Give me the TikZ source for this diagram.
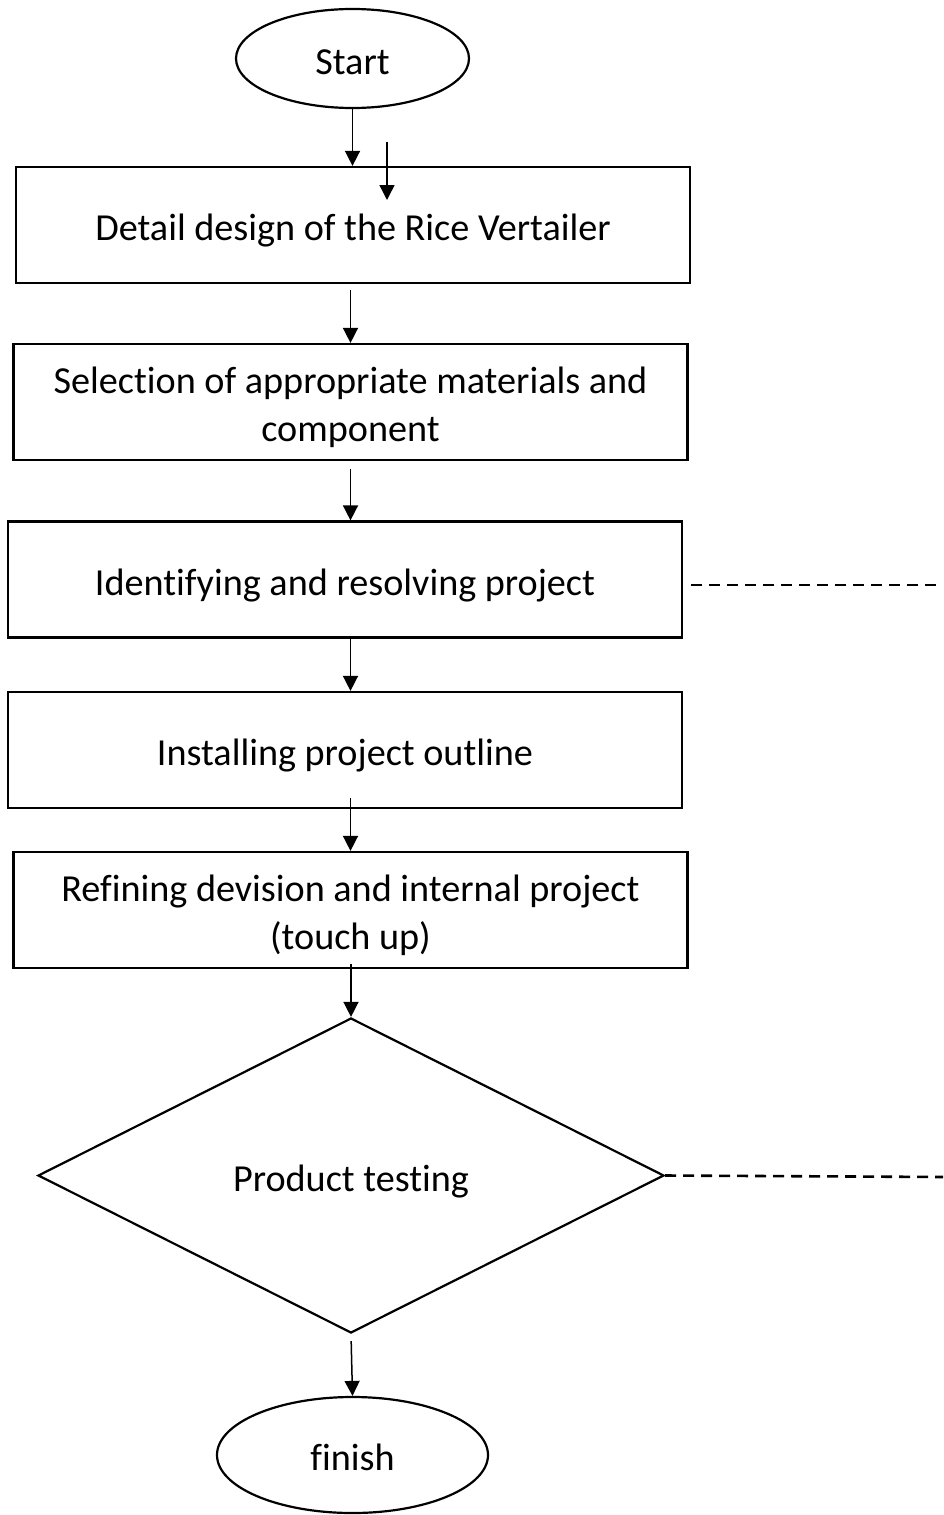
\documentclass[tikz,border=0pt]{standalone}
\usepackage{fontspec}
\setmainfont{Carlito}[Ligatures=NoCommon]
\usetikzlibrary{shapes.geometric,arrows.meta}
\newcommand{\bt}[1]{\raisebox{-6pt}[\height][\depth]{\begin{tabular}{@{}c@{}}#1\end{tabular}}}
\begin{document}
\begin{tikzpicture}[x=1pt,y=-1pt,
  every node/.style={font=\fontsize{38.2}{48}\selectfont},
  box/.style={draw, line width=2.2pt, rectangle, minimum width=674pt, minimum height=116pt, inner sep=0pt},
  term/.style={draw, line width=2.2pt, ellipse, inner sep=0pt},
  decision/.style={draw, line width=2.2pt, diamond, inner sep=0pt},
  arr/.style={line width=1.5pt, -{Triangle[length=15pt,width=15pt]}},
  dashline/.style={line width=2.6pt, dash pattern=on 11pt off 7pt}
]
\useasboundingbox (0,0) rectangle (943,1515);

\node[term, minimum width=233pt, minimum height=99pt] (start) at (352.5,58.5) {\bt{Start}};
\node[box] (b1) at (353,225) {\bt{Detail design of the Rice Vertailer}};
\node[box] (b2) at (350.5,402) {\bt{Selection of appropriate materials and\\component}};
\node[box] (b3) at (345,579.5) {\bt{Identifying and resolving project}};
\node[box] (b4) at (345,750) {\bt{Installing project outline}};
\node[box] (b5) at (350.5,910) {\bt{Refining devision and internal project\\(touch up)}};
\node[decision, minimum width=626pt, minimum height=315pt] (test) at (351,1175.5) {\bt{Product testing}};
\node[term, minimum width=271pt, minimum height=116pt] (fin) at (352.5,1455) {\bt{finish}};

\coordinate (fa) at (387,142);
\coordinate (fb) at (387,200);
\coordinate (d1) at (943,585);
\coordinate (d2) at (943,1177);

\draw[arr] (start.south) -- (start.south |- b1.north);
\draw[arr] (fa) -- (fb);
\draw[arr, shorten <=6pt] (b2.north |- b1.south) -- (b2.north);
\draw[arr, shorten <=8pt] (b2.south) -- (b2.south |- b3.north);
\draw[arr] (b2.south |- b3.south) -- (b2.south |- b4.north);
\draw[arr, shorten <=-11pt] (b5.north |- b4.south) -- (b5.north);
\draw[arr, shorten <=-5pt] (test.north |- b5.south) -- (test.north);
\draw[arr, shorten <=7pt] (test.south) -- (fin.north);

\draw[dashline] ([xshift=8pt]b3.east |- d1) -- (d1);
\draw[dashline] (test.east) -- (d2);
\end{tikzpicture}
\end{document}
